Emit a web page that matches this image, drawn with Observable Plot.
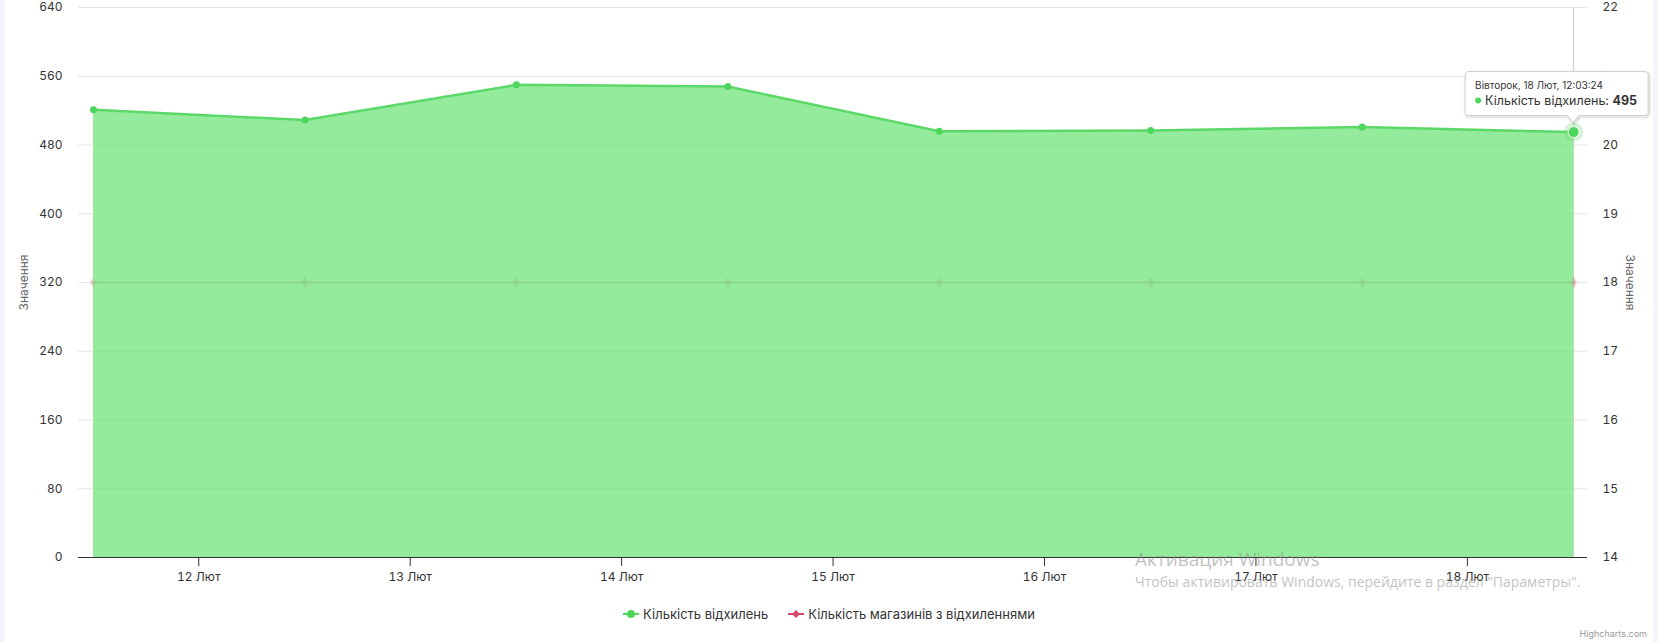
<!DOCTYPE html>
<html>
<head>
<meta charset="utf-8">
<script src="https://cdn.jsdelivr.net/npm/d3@7"></script>
<script src="https://cdn.jsdelivr.net/npm/@observablehq/plot@0.6"></script>
<style>
  html, body { margin: 0; padding: 0; background: #ffffff; }
  body { width: 1658px; height: 642px; position: relative; overflow: hidden; font-family: Inter, "Noto Sans", sans-serif; }
  #chart { position: absolute; left: 0; top: 0; }
  #legend { position: absolute; left: 0; top: 600px; width: 1658px; height: 28px; display: flex; justify-content: center; align-items: center; font-size: 13px; color: #333; gap: 20px; }
  #legend .item { display: flex; align-items: center; gap: 4px; }
  #credits { position: absolute; right: 11px; top: 628px; font-size: 9px; color: #999; }
  .strip { position: absolute; top: 0; width: 5px; height: 642px; background: #f4f5fa; }
  #wm { position: absolute; left: 1135px; top: 548px; color: rgba(140,140,140,0.55); font-family: "Open Sans", sans-serif; pointer-events: none; }
  #wm .l1 { font-size: 19px; line-height: 23px; }
  #wm .l2 { font-size: 14px; line-height: 22px; }
</style>
</head>
<body>
<div class="strip" style="left:0"></div>
<div class="strip" style="right:0"></div>
<div id="chart"></div>
<div id="legend"></div>
<div id="credits">Highcharts.com</div>
<div id="wm"><div class="l1">Активация Windows</div><div class="l2">Чтобы активировать Windows, перейдите в раздел "Параметры".</div></div>
<script>
// ---- data ----
const dates = ["2025-02-11", "2025-02-12", "2025-02-13", "2025-02-14", "2025-02-15", "2025-02-16", "2025-02-17", "2025-02-18"];
const deviations = [521, 509, 550, 548, 496, 497, 501, 495];
const stores = [18, 18, 18, 18, 18, 18, 18, 18];
const leftTicks = [0, 80, 160, 240, 320, 400, 480, 560, 640];
const rightTicks = [14, 15, 16, 17, 18, 19, 20, 21, 22];
const xTickDays = ["2025-02-12", "2025-02-13", "2025-02-14", "2025-02-15", "2025-02-16", "2025-02-17", "2025-02-18"];
const monthLabel = "Лют";
const seriesNames = ["Кількість відхилень", "Кількість магазинів з відхиленнями"];
const tooltipHeader = "Вівторок, 18 Лют, 12:03:24";
const axisTitle = "Значення";

const GREEN = "#70e47b", GREEN_LINE = "#5cd868", GREEN_DOT = "#4fd65c", RED = "#d9466a";

const rows = dates.map((d, i) => ({
  t: new Date(d + "T12:03:24Z"),
  dev: deviations[i],
  st: stores[i],
  // right axis (14..22) mapped onto left scale (0..640)
  stY: (stores[i] - rightTicks[0]) / (rightTicks[rightTicks.length - 1] - rightTicks[0]) * leftTicks[leftTicks.length - 1]
}));
const last = rows[rows.length - 1];
const rightTickPos = rightTicks.map(v => (v - rightTicks[0]) / (rightTicks[rightTicks.length - 1] - rightTicks[0]) * leftTicks[leftTicks.length - 1]);

const chart = Plot.plot({
  width: 1658,
  height: 600,
  marginLeft: 78,
  marginRight: 71,
  marginTop: 7,
  marginBottom: 43,
  style: { fontFamily: "Inter, 'Noto Sans', sans-serif", fontSize: "12px", color: "#333", background: "transparent", overflow: "visible" },
  x: { type: "utc", domain: [new Date("2025-02-11T10:21:00Z"), new Date("2025-02-18T13:38:00Z")] },
  y: { domain: [0, 640] },
  marks: [
    Plot.gridY(leftTicks, { stroke: "#e6e6e6", strokeOpacity: 1 }),
    Plot.ruleX([last], { x: "t", stroke: "#cccccc", strokeWidth: 1 }),
    Plot.lineY(rows, { x: "t", y: "stY", stroke: RED, strokeWidth: 2, strokeOpacity: 0.35 }),
    Plot.dot(rows, { x: "t", y: "stY", symbol: "diamond", r: 3.5, fill: RED, fillOpacity: 0.3 }),
    Plot.areaY(rows, { x: "t", y: "dev", fill: GREEN, fillOpacity: 0.75 }),
    Plot.lineY(rows, { x: "t", y: "dev", stroke: GREEN_LINE, strokeWidth: 2.5 }),
    Plot.dot(rows.slice(0, -1), { x: "t", y: "dev", r: 3.5, fill: GREEN_DOT }),
    Plot.dot([last], { x: "t", y: "dev", r: 9.5, fill: GREEN_DOT, fillOpacity: 0.25 }),
    Plot.dot([last], { x: "t", y: "dev", r: 5.5, fill: GREEN_DOT, stroke: "#ffffff", strokeWidth: 1 }),
    Plot.ruleY([0], { stroke: "#333333", strokeWidth: 1 }),
    Plot.axisX(xTickDays.map(d => new Date(d + "T00:00:00Z")), {
      tickSize: 9, tickPadding: 6, stroke: "#333", fill: "#333", fontSize: 12,
      tickFormat: d => `${d.getUTCDate()} ${monthLabel}`, label: null
    }),
    Plot.axisY(leftTicks, { anchor: "left", tickSize: 0, tickPadding: 16, fill: "#333", fontSize: 12, label: null }),
    Plot.axisY(rightTickPos, { anchor: "right", tickSize: 0, tickPadding: 15, fill: "#333", fontSize: 12, label: null,
      tickFormat: (d, i) => String(rightTicks[i]) }),
    Plot.text([axisTitle], { frameAnchor: "left", textAnchor: "middle", dx: -54, rotate: -90, fontSize: 12, fill: "#666" }),
    Plot.text([axisTitle], { frameAnchor: "right", textAnchor: "middle", dx: 42, rotate: 90, fontSize: 12, fill: "#666" })
  ]
});
document.getElementById("chart").appendChild(chart);

// Highcharts-like tooltip anchored on the hovered point via the plot's own scales
(function () {
  const px = chart.scale("x").apply(last.t);
  const py = chart.scale("y").apply(last.dev);
  const svg = d3.select(chart);
  const defs = svg.append("defs");
  const f = defs.append("filter").attr("id", "tipShadow").attr("x", "-10%").attr("y", "-20%").attr("width", "130%").attr("height", "160%");
  f.append("feDropShadow").attr("dx", 1).attr("dy", 1).attr("stdDeviation", 1.5).attr("flood-color", "#000").attr("flood-opacity", 0.22);
  const g = svg.append("g").attr("class", "hc-tooltip").attr("text-anchor", "start");
  const L = px - 108, T = py - 60, W = 183, H = 44, B = T + H;
  const shape = `M${L + 3},${T} H${L + W - 3} Q${L + W},${T} ${L + W},${T + 3} V${B - 3} Q${L + W},${B} ${L + W - 3},${B} ` +
    `H${px + 6} L${px},${py - 9} L${px - 6},${B} H${L + 3} Q${L},${B} ${L},${B - 3} V${T + 3} Q${L},${T} ${L + 3},${T} Z`;
  g.append("path").attr("d", shape).attr("fill", "#ffffff").attr("stroke", "#cfcfcf").attr("stroke-width", 1).attr("filter", "url(#tipShadow)");
  g.append("text").attr("x", px - 98).attr("y", py - 46).attr("dy", "0.35em").attr("text-anchor", "start")
    .attr("font-size", 10).attr("fill", "#333").text(tooltipHeader);
  g.append("circle").attr("cx", px - 95).attr("cy", py - 31).attr("r", 3).attr("fill", GREEN_DOT);
  const t2 = g.append("text").attr("x", px - 88).attr("y", py - 31).attr("dy", "0.35em").attr("text-anchor", "start")
    .attr("font-size", 12.5).attr("fill", "#333");
  t2.append("tspan").text(`${seriesNames[0]}: `);
  t2.append("tspan").attr("font-weight", "bold").text(String(last.dev));
})();

// legend
const legend = document.getElementById("legend");
const sym = (color, shape) => {
  const marker = shape === "circle"
    ? `<circle cx="8" cy="6" r="4" fill="${color}"/>`
    : `<path d="M8 2 L12 6 L8 10 L4 6 Z" fill="${color}"/>`;
  return `<svg width="16" height="12"><line x1="0" y1="6" x2="16" y2="6" stroke="${color}" stroke-width="2"/>${marker}</svg>`;
};
legend.innerHTML =
  `<div class="item">${sym(GREEN_DOT, "circle")}<span>${seriesNames[0]}</span></div>` +
  `<div class="item">${sym(RED, "diamond")}<span>${seriesNames[1]}</span></div>`;
</script>
</body>
</html>
